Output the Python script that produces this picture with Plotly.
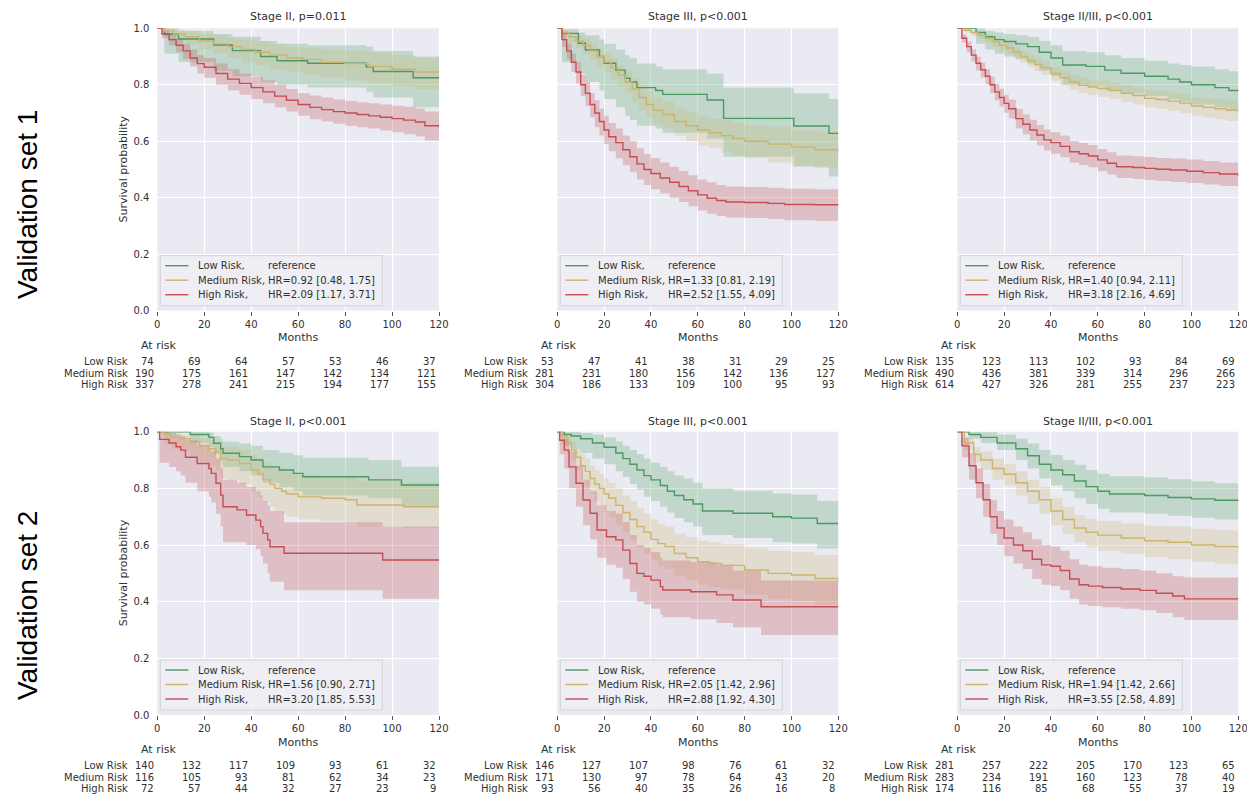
import plotly.graph_objects as go

# ---------------------------------------------------------------- data
MONTH_TICKS = [0, 20, 40, 60, 80, 100, 120]
Y_TICKS = [0.0, 0.2, 0.4, 0.6, 0.8, 1.0]
GROUPS = ["Low Risk", "Medium Risk", "High Risk"]
ROW_TITLES = ["Validation set 1", "Validation set 2"]
PANEL_TITLES = ["Stage II, p=0.011", "Stage III, p<0.001", "Stage II/III, p<0.001",
                "Stage II, p<0.001", "Stage III, p<0.001", "Stage II/III, p<0.001"]
HR_MEDIUM = ["HR=0.92 [0.48, 1.75]", "HR=1.33 [0.81, 2.19]", "HR=1.40 [0.94, 2.11]",
             "HR=1.56 [0.90, 2.71]", "HR=2.05 [1.42, 2.96]", "HR=1.94 [1.42, 2.66]"]
HR_HIGH = ["HR=2.09 [1.17, 3.71]", "HR=2.52 [1.55, 4.09]", "HR=3.18 [2.16, 4.69]",
           "HR=3.20 [1.85, 5.53]", "HR=2.88 [1.92, 4.30]", "HR=3.55 [2.58, 4.89]"]

# at-risk counts at months 0,20,...,120
P1_RISK_LOW = [74, 69, 64, 57, 53, 46, 37]
P1_RISK_MED = [190, 175, 161, 147, 142, 134, 121]
P1_RISK_HIGH = [337, 278, 241, 215, 194, 177, 155]
P2_RISK_LOW = [53, 47, 41, 38, 31, 29, 25]
P2_RISK_MED = [281, 231, 180, 156, 142, 136, 127]
P2_RISK_HIGH = [304, 186, 133, 109, 100, 95, 93]
P3_RISK_LOW = [135, 123, 113, 102, 93, 84, 69]
P3_RISK_MED = [490, 436, 381, 339, 314, 296, 266]
P3_RISK_HIGH = [614, 427, 326, 281, 255, 237, 223]
P4_RISK_LOW = [140, 132, 117, 109, 93, 61, 32]
P4_RISK_MED = [116, 105, 93, 81, 62, 34, 23]
P4_RISK_HIGH = [72, 57, 44, 32, 27, 23, 9]
P5_RISK_LOW = [146, 127, 107, 98, 76, 61, 32]
P5_RISK_MED = [171, 130, 97, 78, 64, 43, 20]
P5_RISK_HIGH = [93, 56, 40, 35, 26, 16, 8]
P6_RISK_LOW = [281, 257, 222, 205, 170, 123, 65]
P6_RISK_MED = [283, 234, 191, 160, 123, 78, 40]
P6_RISK_HIGH = [174, 116, 85, 68, 55, 37, 19]

# Kaplan-Meier curves: step times (months), survival, lower CI, upper CI
P1_LOW_T = [0, 3, 9, 24, 32, 44, 51, 64, 89, 92, 109, 120]
P1_LOW_S = [1.0, 0.98, 0.962, 0.941, 0.921, 0.90, 0.885, 0.876, 0.864, 0.847, 0.825, 0.825]
P1_LOW_LO = [1.0, 0.91, 0.88, 0.85, 0.83, 0.81, 0.80, 0.79, 0.775, 0.755, 0.72, 0.70]
P1_LOW_HI = [1.0, 1.0, 0.99, 0.98, 0.97, 0.955, 0.945, 0.94, 0.935, 0.92, 0.90, 0.90]
P1_MED_T = [0, 3, 7, 12, 18, 24, 30, 36, 42, 48, 55, 62, 70, 80, 90, 100, 110, 120]
P1_MED_S = [1.0, 0.99, 0.98, 0.97, 0.955, 0.945, 0.935, 0.925, 0.915, 0.905, 0.895, 0.89, 0.88, 0.875, 0.865, 0.855, 0.845, 0.84]
P1_MED_LO = [1.0, 0.975, 0.96, 0.945, 0.925, 0.91, 0.895, 0.88, 0.87, 0.855, 0.845, 0.835, 0.825, 0.815, 0.805, 0.795, 0.785, 0.775]
P1_MED_HI = [1.0, 1.0, 0.995, 0.99, 0.98, 0.975, 0.965, 0.96, 0.955, 0.945, 0.935, 0.93, 0.925, 0.92, 0.915, 0.905, 0.895, 0.89]
P1_HIGH_T = [0, 2, 5, 8, 11, 14, 17, 20, 25, 30, 35, 40, 45, 50, 55, 60, 65, 70, 75, 80, 85, 90, 95, 100, 105, 110, 114, 120]
P1_HIGH_S = [1.0, 0.98, 0.96, 0.94, 0.92, 0.895, 0.875, 0.862, 0.84, 0.82, 0.805, 0.79, 0.775, 0.76, 0.745, 0.73, 0.72, 0.712, 0.705, 0.70, 0.695, 0.69, 0.685, 0.68, 0.675, 0.668, 0.655, 0.65]
P1_HIGH_LO = [1.0, 0.965, 0.94, 0.915, 0.89, 0.865, 0.84, 0.825, 0.80, 0.78, 0.765, 0.75, 0.735, 0.72, 0.705, 0.69, 0.678, 0.67, 0.662, 0.655, 0.65, 0.645, 0.638, 0.632, 0.625, 0.617, 0.603, 0.597]
P1_HIGH_HI = [1.0, 0.995, 0.98, 0.965, 0.945, 0.925, 0.905, 0.895, 0.875, 0.855, 0.84, 0.828, 0.815, 0.80, 0.785, 0.77, 0.762, 0.755, 0.748, 0.743, 0.738, 0.735, 0.73, 0.726, 0.722, 0.716, 0.705, 0.70]

P2_LOW_T = [0, 2, 9, 12, 18, 20, 25, 29, 31, 34, 42, 45, 64, 71, 101, 116, 120]
P2_LOW_S = [1.0, 0.982, 0.947, 0.923, 0.90, 0.876, 0.852, 0.823, 0.81, 0.79, 0.78, 0.766, 0.746, 0.681, 0.654, 0.628, 0.628]
P2_LOW_LO = [1.0, 0.88, 0.84, 0.81, 0.78, 0.75, 0.72, 0.69, 0.675, 0.655, 0.645, 0.63, 0.61, 0.545, 0.51, 0.475, 0.475]
P2_LOW_HI = [1.0, 0.997, 0.985, 0.975, 0.96, 0.945, 0.925, 0.905, 0.895, 0.875, 0.865, 0.855, 0.84, 0.79, 0.77, 0.75, 0.75]
P2_MED_T = [0, 2, 5, 8, 11, 14, 17, 20, 23, 26, 29, 32, 35, 38, 41, 45, 50, 55, 60, 65, 70, 75, 80, 90, 100, 110, 120]
P2_MED_S = [1.0, 0.985, 0.97, 0.955, 0.94, 0.92, 0.90, 0.88, 0.86, 0.835, 0.81, 0.785, 0.755, 0.73, 0.71, 0.695, 0.67, 0.655, 0.64, 0.63, 0.62, 0.61, 0.60, 0.59, 0.58, 0.57, 0.56]
P2_MED_LO = [1.0, 0.97, 0.95, 0.93, 0.91, 0.89, 0.865, 0.845, 0.82, 0.795, 0.77, 0.74, 0.71, 0.685, 0.66, 0.645, 0.62, 0.6, 0.585, 0.575, 0.56, 0.55, 0.54, 0.525, 0.515, 0.505, 0.49]
P2_MED_HI = [1.0, 0.995, 0.985, 0.975, 0.965, 0.95, 0.93, 0.91, 0.895, 0.87, 0.85, 0.825, 0.8, 0.775, 0.755, 0.74, 0.715, 0.705, 0.69, 0.68, 0.675, 0.665, 0.655, 0.65, 0.64, 0.635, 0.625]
P2_HIGH_T = [0, 2, 4, 6, 8, 10, 12, 14, 16, 18, 20, 22, 25, 28, 31, 34, 37, 40, 44, 48, 52, 56, 60, 64, 68, 72, 80, 90, 97, 110, 120]
P2_HIGH_S = [1.0, 0.96, 0.92, 0.88, 0.845, 0.80, 0.77, 0.73, 0.70, 0.67, 0.64, 0.616, 0.595, 0.57, 0.545, 0.52, 0.50, 0.486, 0.47, 0.455, 0.44, 0.425, 0.41, 0.398, 0.39, 0.385, 0.383, 0.38, 0.376, 0.375, 0.374]
P2_HIGH_LO = [1.0, 0.935, 0.89, 0.845, 0.805, 0.76, 0.725, 0.685, 0.65, 0.62, 0.59, 0.565, 0.54, 0.515, 0.49, 0.465, 0.445, 0.43, 0.415, 0.4, 0.385, 0.37, 0.355, 0.343, 0.335, 0.33, 0.328, 0.325, 0.32, 0.318, 0.317]
P2_HIGH_HI = [1.0, 0.98, 0.945, 0.91, 0.88, 0.835, 0.81, 0.77, 0.745, 0.715, 0.69, 0.665, 0.645, 0.62, 0.6, 0.575, 0.555, 0.54, 0.525, 0.51, 0.495, 0.48, 0.465, 0.455, 0.445, 0.44, 0.438, 0.435, 0.432, 0.43, 0.43]

P3_LOW_T = [0, 8, 12, 16, 20, 25, 30, 35, 40, 45, 55, 63, 70, 80, 90, 95, 100, 110, 116, 120]
P3_LOW_S = [1.0, 0.985, 0.97, 0.96, 0.953, 0.945, 0.935, 0.915, 0.895, 0.87, 0.865, 0.852, 0.841, 0.83, 0.82, 0.81, 0.80, 0.79, 0.78, 0.778]
P3_LOW_LO = [1.0, 0.945, 0.925, 0.91, 0.9, 0.89, 0.875, 0.85, 0.83, 0.8, 0.795, 0.78, 0.77, 0.76, 0.75, 0.74, 0.73, 0.72, 0.71, 0.705]
P3_LOW_HI = [1.0, 1.0, 0.99, 0.985, 0.98, 0.975, 0.97, 0.955, 0.94, 0.92, 0.915, 0.905, 0.895, 0.885, 0.875, 0.87, 0.865, 0.855, 0.848, 0.846]
P3_MED_T = [0, 3, 6, 9, 12, 15, 18, 21, 24, 27, 30, 33, 36, 40, 44, 48, 52, 56, 60, 65, 70, 75, 80, 85, 90, 95, 100, 105, 110, 115, 120]
P3_MED_S = [1.0, 0.993, 0.985, 0.975, 0.965, 0.952, 0.94, 0.93, 0.915, 0.9, 0.885, 0.872, 0.86, 0.84, 0.825, 0.81, 0.798, 0.792, 0.787, 0.78, 0.77, 0.762, 0.752, 0.748, 0.742, 0.735, 0.725, 0.72, 0.715, 0.71, 0.705]
P3_MED_LO = [1.0, 0.985, 0.974, 0.962, 0.95, 0.935, 0.922, 0.91, 0.894, 0.878, 0.862, 0.848, 0.835, 0.814, 0.798, 0.782, 0.77, 0.763, 0.757, 0.75, 0.739, 0.73, 0.72, 0.715, 0.708, 0.7, 0.69, 0.684, 0.678, 0.672, 0.666]
P3_MED_HI = [1.0, 0.998, 0.993, 0.985, 0.978, 0.967, 0.956, 0.948, 0.934, 0.92, 0.906, 0.894, 0.883, 0.864, 0.85, 0.836, 0.824, 0.819, 0.815, 0.808, 0.799, 0.791, 0.782, 0.778, 0.773, 0.767, 0.757, 0.753, 0.749, 0.745, 0.741]
P3_HIGH_T = [0, 2, 4, 6, 8, 10, 12, 14, 16, 18, 20, 22, 25, 28, 31, 34, 37, 40, 44, 48, 52, 56, 60, 64, 68, 75, 80, 85, 91, 98, 105, 112, 120]
P3_HIGH_S = [1.0, 0.965, 0.935, 0.905, 0.876, 0.853, 0.83, 0.8, 0.775, 0.755, 0.734, 0.715, 0.68, 0.66, 0.64, 0.622, 0.605, 0.595, 0.582, 0.563, 0.556, 0.548, 0.534, 0.522, 0.51, 0.507, 0.504, 0.501, 0.498, 0.494, 0.489, 0.484, 0.478]
P3_HIGH_LO = [1.0, 0.95, 0.915, 0.882, 0.851, 0.826, 0.802, 0.77, 0.744, 0.723, 0.701, 0.681, 0.645, 0.624, 0.603, 0.585, 0.567, 0.556, 0.543, 0.524, 0.516, 0.508, 0.494, 0.482, 0.47, 0.466, 0.463, 0.459, 0.456, 0.452, 0.447, 0.442, 0.437]
P3_HIGH_HI = [1.0, 0.978, 0.953, 0.926, 0.899, 0.878, 0.856, 0.828, 0.804, 0.786, 0.765, 0.748, 0.714, 0.695, 0.676, 0.658, 0.642, 0.632, 0.62, 0.601, 0.594, 0.587, 0.573, 0.561, 0.55, 0.547, 0.544, 0.541, 0.539, 0.535, 0.53, 0.525, 0.519]

P4_LOW_T = [0, 14, 22, 24, 27, 28, 35, 40, 45, 52, 58, 62, 90, 104, 120]
P4_LOW_S = [1.0, 0.99, 0.98, 0.959, 0.94, 0.924, 0.912, 0.90, 0.876, 0.865, 0.853, 0.841, 0.83, 0.812, 0.812]
P4_LOW_LO = [1.0, 0.96, 0.945, 0.92, 0.895, 0.875, 0.86, 0.845, 0.82, 0.805, 0.79, 0.775, 0.765, 0.735, 0.735]
P4_LOW_HI = [1.0, 1.0, 0.997, 0.985, 0.975, 0.965, 0.958, 0.95, 0.935, 0.926, 0.917, 0.908, 0.9, 0.876, 0.876]
P4_MED_T = [0, 3, 6, 10, 14, 18, 22, 25, 27, 30, 35, 40, 43, 45, 48, 50, 53, 55, 60, 70, 80, 85, 105, 120]
P4_MED_S = [1.0, 0.99, 0.98, 0.975, 0.965, 0.95, 0.94, 0.93, 0.905, 0.9, 0.888, 0.865, 0.85, 0.83, 0.815, 0.80, 0.79, 0.78, 0.77, 0.765, 0.76, 0.741, 0.735, 0.735]
P4_MED_LO = [1.0, 0.955, 0.94, 0.93, 0.915, 0.895, 0.88, 0.865, 0.835, 0.83, 0.815, 0.79, 0.77, 0.75, 0.735, 0.72, 0.71, 0.7, 0.69, 0.685, 0.68, 0.665, 0.66, 0.66]
P4_MED_HI = [1.0, 1.0, 0.995, 0.99, 0.985, 0.978, 0.972, 0.965, 0.948, 0.945, 0.936, 0.918, 0.907, 0.893, 0.882, 0.87, 0.863, 0.855, 0.847, 0.843, 0.84, 0.825, 0.82, 0.82]
P4_HIGH_T = [0, 1, 5, 8, 10, 12, 17, 22, 23, 25, 27, 28, 34, 38, 42, 44, 45, 47, 48, 54, 96, 120]
P4_HIGH_S = [1.0, 0.973, 0.96, 0.947, 0.935, 0.91, 0.888, 0.87, 0.853, 0.818, 0.776, 0.735, 0.724, 0.706, 0.688, 0.665, 0.641, 0.618, 0.594, 0.571, 0.547, 0.547]
P4_HIGH_LO = [1.0, 0.89, 0.875, 0.86, 0.845, 0.82, 0.79, 0.77, 0.75, 0.71, 0.665, 0.61, 0.61, 0.6, 0.585, 0.56, 0.535, 0.5, 0.47, 0.44, 0.41, 0.41]
P4_HIGH_HI = [1.0, 1.0, 0.995, 0.99, 0.985, 0.97, 0.955, 0.94, 0.93, 0.905, 0.87, 0.83, 0.82, 0.805, 0.79, 0.775, 0.755, 0.74, 0.72, 0.68, 0.665, 0.665]

P5_LOW_T = [0, 3, 6, 10, 15, 20, 25, 28, 31, 34, 37, 40, 44, 47, 50, 54, 58, 62, 75, 92, 100, 111, 120]
P5_LOW_S = [1.0, 0.99, 0.985, 0.975, 0.96, 0.945, 0.925, 0.905, 0.885, 0.865, 0.845, 0.83, 0.81, 0.79, 0.775, 0.76, 0.745, 0.72, 0.712, 0.70, 0.695, 0.676, 0.676]
P5_LOW_LO = [1.0, 0.95, 0.94, 0.925, 0.905, 0.885, 0.86, 0.84, 0.815, 0.795, 0.77, 0.755, 0.735, 0.715, 0.695, 0.68, 0.665, 0.635, 0.625, 0.61, 0.605, 0.588, 0.588]
P5_LOW_HI = [1.0, 1.0, 1.0, 0.995, 0.99, 0.98, 0.965, 0.95, 0.935, 0.92, 0.905, 0.89, 0.875, 0.86, 0.845, 0.835, 0.82, 0.8, 0.792, 0.782, 0.778, 0.755, 0.755]
P5_MED_T = [0, 2, 4, 6, 8, 10, 12, 14, 16, 18, 20, 22, 25, 28, 31, 34, 37, 40, 43, 46, 50, 55, 60, 65, 70, 80, 90, 100, 110, 120]
P5_MED_S = [1.0, 0.985, 0.96, 0.935, 0.91, 0.88, 0.86, 0.835, 0.815, 0.8, 0.78, 0.765, 0.74, 0.715, 0.69, 0.665, 0.645, 0.62, 0.605, 0.595, 0.57, 0.555, 0.541, 0.535, 0.528, 0.512, 0.5, 0.494, 0.482, 0.47]
P5_MED_LO = [1.0, 0.955, 0.925, 0.895, 0.865, 0.83, 0.805, 0.78, 0.755, 0.74, 0.715, 0.7, 0.67, 0.645, 0.615, 0.59, 0.57, 0.545, 0.525, 0.515, 0.49, 0.475, 0.46, 0.452, 0.444, 0.425, 0.41, 0.402, 0.39, 0.378]
P5_MED_HI = [1.0, 0.995, 0.985, 0.965, 0.945, 0.92, 0.905, 0.88, 0.865, 0.85, 0.835, 0.82, 0.8, 0.775, 0.755, 0.73, 0.71, 0.69, 0.675, 0.665, 0.64, 0.628, 0.615, 0.61, 0.603, 0.59, 0.58, 0.575, 0.565, 0.555]
P5_HIGH_T = [0, 1, 3, 5, 8, 11, 14, 17, 21, 25, 28, 31, 34, 37, 40, 44, 45, 57, 68, 75, 87, 120]
P5_HIGH_S = [1.0, 0.97, 0.935, 0.876, 0.818, 0.759, 0.712, 0.653, 0.629, 0.618, 0.582, 0.535, 0.5, 0.49, 0.476, 0.453, 0.441, 0.435, 0.424, 0.406, 0.382, 0.382]
P5_HIGH_LO = [1.0, 0.92, 0.87, 0.8, 0.735, 0.67, 0.62, 0.555, 0.53, 0.52, 0.48, 0.435, 0.4, 0.39, 0.375, 0.355, 0.345, 0.338, 0.325, 0.31, 0.282, 0.282]
P5_HIGH_HI = [1.0, 0.995, 0.975, 0.93, 0.88, 0.83, 0.79, 0.74, 0.72, 0.71, 0.68, 0.635, 0.6, 0.59, 0.575, 0.555, 0.545, 0.54, 0.53, 0.51, 0.475, 0.475]

P6_LOW_T = [0, 5, 10, 17, 25, 30, 35, 40, 45, 50, 55, 60, 65, 80, 90, 100, 110, 120]
P6_LOW_S = [1.0, 0.99, 0.98, 0.96, 0.94, 0.915, 0.885, 0.865, 0.848, 0.826, 0.806, 0.79, 0.78, 0.775, 0.768, 0.763, 0.758, 0.755]
P6_LOW_LO = [1.0, 0.975, 0.96, 0.935, 0.9, 0.87, 0.835, 0.81, 0.79, 0.765, 0.745, 0.728, 0.715, 0.71, 0.703, 0.696, 0.69, 0.688]
P6_LOW_HI = [1.0, 1.0, 0.998, 0.99, 0.975, 0.958, 0.935, 0.918, 0.9, 0.883, 0.865, 0.852, 0.843, 0.838, 0.832, 0.825, 0.818, 0.812]
P6_MED_T = [0, 3, 7, 10, 15, 20, 25, 30, 35, 40, 45, 50, 55, 60, 70, 80, 90, 100, 110, 120]
P6_MED_S = [1.0, 0.96, 0.92, 0.9, 0.87, 0.85, 0.82, 0.79, 0.76, 0.72, 0.69, 0.66, 0.645, 0.635, 0.625, 0.615, 0.61, 0.60, 0.595, 0.588]
P6_MED_LO = [1.0, 0.935, 0.89, 0.865, 0.83, 0.81, 0.775, 0.745, 0.71, 0.67, 0.64, 0.61, 0.592, 0.58, 0.57, 0.558, 0.55, 0.54, 0.532, 0.523]
P6_MED_HI = [1.0, 0.978, 0.945, 0.93, 0.905, 0.885, 0.86, 0.83, 0.805, 0.765, 0.735, 0.705, 0.692, 0.685, 0.676, 0.668, 0.665, 0.657, 0.652, 0.648]
P6_HIGH_T = [0, 2, 5, 8, 11, 14, 17, 20, 24, 28, 32, 36, 40, 44, 48, 52, 56, 62, 70, 78, 85, 92, 97, 120]
P6_HIGH_S = [1.0, 0.95, 0.88, 0.82, 0.76, 0.70, 0.66, 0.625, 0.60, 0.58, 0.55, 0.53, 0.525, 0.51, 0.48, 0.46, 0.455, 0.45, 0.445, 0.44, 0.43, 0.42, 0.41, 0.41]
P6_HIGH_LO = [1.0, 0.91, 0.83, 0.765, 0.7, 0.64, 0.6, 0.56, 0.535, 0.515, 0.48, 0.46, 0.455, 0.44, 0.41, 0.39, 0.385, 0.38, 0.375, 0.37, 0.36, 0.345, 0.335, 0.335]
P6_HIGH_HI = [1.0, 0.98, 0.925, 0.87, 0.815, 0.76, 0.72, 0.69, 0.665, 0.645, 0.62, 0.6, 0.595, 0.58, 0.55, 0.53, 0.525, 0.52, 0.515, 0.51, 0.5, 0.49, 0.485, 0.485]

# ---------------------------------------------------------------- assembly
PANEL_CURVES = [
    [(P1_LOW_T, P1_LOW_S, P1_LOW_LO, P1_LOW_HI), (P1_MED_T, P1_MED_S, P1_MED_LO, P1_MED_HI), (P1_HIGH_T, P1_HIGH_S, P1_HIGH_LO, P1_HIGH_HI)],
    [(P2_LOW_T, P2_LOW_S, P2_LOW_LO, P2_LOW_HI), (P2_MED_T, P2_MED_S, P2_MED_LO, P2_MED_HI), (P2_HIGH_T, P2_HIGH_S, P2_HIGH_LO, P2_HIGH_HI)],
    [(P3_LOW_T, P3_LOW_S, P3_LOW_LO, P3_LOW_HI), (P3_MED_T, P3_MED_S, P3_MED_LO, P3_MED_HI), (P3_HIGH_T, P3_HIGH_S, P3_HIGH_LO, P3_HIGH_HI)],
    [(P4_LOW_T, P4_LOW_S, P4_LOW_LO, P4_LOW_HI), (P4_MED_T, P4_MED_S, P4_MED_LO, P4_MED_HI), (P4_HIGH_T, P4_HIGH_S, P4_HIGH_LO, P4_HIGH_HI)],
    [(P5_LOW_T, P5_LOW_S, P5_LOW_LO, P5_LOW_HI), (P5_MED_T, P5_MED_S, P5_MED_LO, P5_MED_HI), (P5_HIGH_T, P5_HIGH_S, P5_HIGH_LO, P5_HIGH_HI)],
    [(P6_LOW_T, P6_LOW_S, P6_LOW_LO, P6_LOW_HI), (P6_MED_T, P6_MED_S, P6_MED_LO, P6_MED_HI), (P6_HIGH_T, P6_HIGH_S, P6_HIGH_LO, P6_HIGH_HI)],
]
PANEL_RISK = [
    [P1_RISK_LOW, P1_RISK_MED, P1_RISK_HIGH], [P2_RISK_LOW, P2_RISK_MED, P2_RISK_HIGH],
    [P3_RISK_LOW, P3_RISK_MED, P3_RISK_HIGH], [P4_RISK_LOW, P4_RISK_MED, P4_RISK_HIGH],
    [P5_RISK_LOW, P5_RISK_MED, P5_RISK_HIGH], [P6_RISK_LOW, P6_RISK_MED, P6_RISK_HIGH],
]
for curves in PANEL_CURVES:
    for c in curves:
        assert len(c[0]) == len(c[1]) == len(c[2]) == len(c[3]), c[0]

# ---------------------------------------------------------------- styling / layout
W, H = 1247, 798
FONT = "DejaVu Sans"
TXT = "#303030"
LINE_COLORS = ["#4a9a62", "#cbb46e", "#c44e52"]
BAND_COLORS = ["rgba(85,168,104,0.27)", "rgba(204,185,116,0.27)", "rgba(196,78,82,0.27)"]

COL_X = [(157.3, 439.0), (557.3, 838.3), (957.3, 1238.3)]
ROW_Y = [(28.3, 310.7), (431.7, 715.0)]
TITLE_Y = [16, 421]
MONTHS_Y = [338, 742]
ATRISK_Y = [346, 749]
ROWS_Y = [[362, 373, 384], [765, 777, 788]]
SET_Y = [205, 606]
LEG_W, LEG_H = 222, 50
LEG_ROWS = [40, 25.5, 11]      # row centres, px above legend bottom


def px(x):
    return x / W


def py(y):
    return 1 - y / H


fig = go.Figure()
annotations = []
shapes = []
layout = dict(
    width=W, height=H, autosize=False, showlegend=False,
    margin=dict(l=0, r=0, t=0, b=0, pad=0),
    paper_bgcolor="white", plot_bgcolor="#eaeaf2",
    font=dict(family=FONT, size=10, color=TXT),
)


def txt(text, x, y, anchor="left", size=10, xref="paper", **kw):
    d = dict(text=text, xref=xref, x=x, yref="paper", y=y, xanchor=anchor,
             yanchor="middle", showarrow=False, font=dict(size=size, color=TXT, family=FONT))
    d.update(kw)
    return d


for i in range(6):
    r, c = divmod(i, 3)
    n = "" if i == 0 else str(i + 1)
    x0, x1 = COL_X[c]
    yt, yb = ROW_Y[r]
    xa, ya = "x" + n, "y" + n

    layout["xaxis" + n] = dict(
        domain=[px(x0), px(x1)], anchor=ya, range=[0, 120], tickvals=MONTH_TICKS,
        ticks="outside", ticklen=4, tickwidth=1, tickcolor="#555", automargin=False,
        ticklabeloverflow="allow",
        showgrid=True, gridcolor="white", gridwidth=1, zeroline=False, showline=False,
        tickfont=dict(size=10, color=TXT, family=FONT),
    )
    layout["yaxis" + n] = dict(
        domain=[py(yb), py(yt)], anchor=xa, range=[0, 1], tickvals=Y_TICKS,
        ticktext=["%.1f" % v for v in Y_TICKS], showticklabels=(c == 0), ticks="",
        ticklabelstandoff=7, automargin=False,
        showgrid=True, gridcolor="white", gridwidth=1, zeroline=False, showline=False,
        tickfont=dict(size=10, color=TXT, family=FONT),
    )

    # CI bands
    for g, (t, s, lo, hi) in enumerate(PANEL_CURVES[i]):
        fig.add_trace(go.Scatter(x=t, y=lo, mode="lines", line=dict(width=0, shape="hv"),
                                 xaxis=xa, yaxis=ya, hoverinfo="skip"))
        fig.add_trace(go.Scatter(x=t, y=hi, mode="lines", line=dict(width=0, shape="hv"),
                                 fill="tonexty", fillcolor=BAND_COLORS[g],
                                 xaxis=xa, yaxis=ya, hoverinfo="skip"))
    # survival lines
    for g, (t, s, lo, hi) in enumerate(PANEL_CURVES[i]):
        fig.add_trace(go.Scatter(x=t, y=s, mode="lines", name=GROUPS[g],
                                 line=dict(color=LINE_COLORS[g], width=1.4, shape="hv"),
                                 xaxis=xa, yaxis=ya))

    # legend box (matplotlib-style, two aligned text columns)
    lx = x0 + 3
    lb = yb - 5
    shapes.append(dict(type="rect", xref="paper", yref="paper",
                       x0=px(lx), x1=px(lx + LEG_W), y0=py(lb), y1=py(lb - LEG_H),
                       fillcolor="rgba(238,238,244,0.88)", line=dict(color="#d3d3da", width=1)))
    col2 = ["reference", HR_MEDIUM[i], HR_HIGH[i]]
    col1 = ["Low Risk,", "Medium Risk,", "High Risk,"]
    for g in range(3):
        yy = py(lb - LEG_ROWS[g])
        shapes.append(dict(type="line", xref="paper", yref="paper",
                           x0=px(lx + 5), x1=px(lx + 28), y0=yy, y1=yy,
                           line=dict(color=LINE_COLORS[g], width=1.4)))
        annotations.append(txt(col1[g], px(lx + 36), yy))
        annotations.append(txt(col2[g], px(lx + 106), yy))

    annotations.append(txt(PANEL_TITLES[i], 0.5, py(TITLE_Y[r]), "center", 11, xa + " domain"))
    annotations.append(txt("Months", 0.5, py(MONTHS_Y[r]), "center", 11, xa + " domain"))
    if c == 0:
        annotations.append(txt("Survival probability", px(123), py((yt + yb) / 2), "center", 11,
                               textangle=-90))
    annotations.append(txt("At risk", px(x0 - 18), py(ATRISK_Y[r]), "left", 11))
    for g in range(3):
        annotations.append(txt(GROUPS[g], px(x0 - 27), py(ROWS_Y[r][g]), "right"))
        for m, cnt in zip(MONTH_TICKS, PANEL_RISK[i][g]):
            annotations.append(txt(str(cnt), m, py(ROWS_Y[r][g]), "right", 10, xa, xshift=-1))

for r in range(2):
    annotations.append(dict(text=ROW_TITLES[r], xref="paper", x=px(27), yref="paper",
                            y=py(SET_Y[r]), textangle=-90, xanchor="center", yanchor="middle",
                            showarrow=False,
                            font=dict(size=28, color="black", family="Liberation Sans")))

layout["annotations"] = annotations
layout["shapes"] = shapes
fig.update_layout(**layout)
fig.write_html(
    "out.html",
    config={"displayModeBar": False},
    post_script="document.body.style.margin='0';document.body.style.overflow='hidden';",
)
